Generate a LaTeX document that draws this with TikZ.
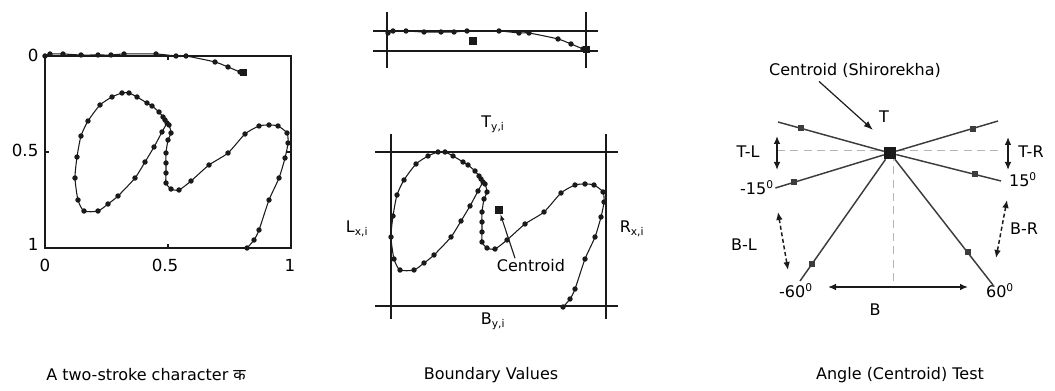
\documentclass[tikz,border=0pt]{standalone}
\usepackage{fontspec}
\setmainfont{DejaVu Sans}
\newfontfamily\devafont[Script=Devanagari]{Noto Sans}
\usetikzlibrary{arrows.meta,positioning}
\definecolor{ink}{HTML}{1A1A1A}
\definecolor{raygray}{HTML}{3C3C3C}
\definecolor{guide}{HTML}{B5B5B5}

% pen samples of the two strokes (pixel units, y downward)
\newcommand\firststroke{%
  \draw[penline] plot[smooth, tension=0.4, mark=*] coordinates {(45,56) (50,54) (63,54) (81,55) (98,55)
    (111,55) (124,54) (156,54) (176,56) (186,56) (215,62) (228,67) (240,72)};
  \fill[ink] (243,73) +(-3.5,-3.5) rectangle +(3.5,3.5);}
\newcommand\secondstroke{%
  \draw[penline] plot[smooth, tension=0.4, mark=*] coordinates {(247,248) (254,240) (259,230) (269,200)
    (279,178) (285,158) (288,143) (287,133) (278,126) (269,125) (259,126) (245,134) (228,153)
    (209,165) (191,181) (179,190) (171,189) (166,183) (166,173) (166,163) (166,153) (168,140)
    (171,133) (169,125) (165,120) (163,117) (159,112) (152,106) (147,103) (137,97) (129,93)
    (122,93) (112,97) (100,105) (88,121) (81,136) (77,157) (75,178) (78,200) (84,211) (98,211)
    (108,204) (118,196) (135,178) (145,162) (154,147) (162,132) (167,123)};}

\begin{document}
\begin{tikzpicture}[x=0.75pt,y=-0.75pt,
  txt/.style={font=\fontsize{12}{14}\selectfont, inner sep=1pt},
  ticklab/.style={font=\fontsize{12.5}{14}\selectfont, inner sep=1pt},
  penline/.style={ink, line width=0.8pt, mark size=1.6pt},
  frame/.style={ink, line width=1pt},
  ray/.style={raygray, line width=1.1pt},
  mk/.style={fill=raygray, minimum size=4.5pt, inner sep=0pt},
  sq/.style={fill=ink, minimum size=5.5pt, inner sep=0pt},
  guideline/.style={guide, dash pattern=on 6pt off 4pt, line width=0.7pt},
  dbl/.style={{Latex[length=6pt,width=5pt]}-{Latex[length=6pt,width=5pt]}, ink, line width=1.1pt},
]
  \useasboundingbox (0,0) rectangle (1055,391);

  % Panel 1: the character on unit axes
  \draw[frame] (45,56) rectangle (291,248);
  \draw[frame] (168,248) -- (168,244) (168,56) -- (168,60) (45,152) -- (49,152) (291,152) -- (287,152);
  \node[ticklab, anchor=east] (ylo) at (40,55) {0};
  \node[ticklab, anchor=east] (ymid) at (40,150) {0.5};
  \node[ticklab, anchor=east] (yhi) at (40,244) {1};
  \node[ticklab] (xlo) at (45,265) {0};
  \node[ticklab] (xmid) at (165,265) {0.5};
  \node[ticklab] (xhi) at (290,265) {1};
  \firststroke
  \secondstroke

  % Panel 2: boundary values
  \draw[frame] (373,31) -- (598,31) (373,51) -- (598,51) (387,12) -- (387,68) (586,12) -- (586,68);
  \begin{scope}[shift={(343,-23)}]
    \firststroke
  \end{scope}
  \node[sq] (ctop) at (473,41) {};

  \draw[frame] (375,152) -- (618,152) (375,306) -- (618,306) (391,134) -- (391,319) (606,134) -- (606,319);
  \begin{scope}[shift={(316,59)}]
    \secondstroke
  \end{scope}
  \node[sq] (cbot) at (499,210) {};
  \node[txt] (tyi) at (493,124) {T\textsubscript{y,i}};
  \node[txt] (byi) at (493,321) {B\textsubscript{y,i}};
  \node[txt] (lxi) at (357,229) {L\textsubscript{x,i}};
  \node[txt] (rxi) at (632,229) {R\textsubscript{x,i}};
  \node[txt] (clab) at (531,266) {Centroid};
  \draw[-{Latex[length=5pt,width=3.5pt]}, ink, line width=0.8pt] ([xshift=-12pt]clab.north) -- (cbot);

  % Panel 3: angle test round the centroid
  \draw[guideline] (777,150) -- (1000,150);
  \draw[guideline] (893,153) -- (893,282);
  \node[fill=ink, minimum size=9pt, inner sep=0pt] (hub) at (890,153) {};
  \coordinate (ulend) at (778,122);
  \coordinate (urend) at (998,121);
  \coordinate (pfend) at (1001,181);
  \coordinate (msend) at (800,281);
  \coordinate (psend) at (993,285);
  \node[txt] (mfif) at (757,188) {-15\textsuperscript{0}};
  \node[txt] (pfif) at (1023,180) {15\textsuperscript{0}};
  \node[txt] (msix) at (796,291) {-60\textsuperscript{0}};
  \node[txt] (psix) at (1000,291) {60\textsuperscript{0}};
  \draw[ray] (hub) -- (ulend) node[pos=0.78, mk] (ulmk) {};
  \draw[ray] (hub) -- (urend) node[pos=0.75, mk] (urmk) {};
  \draw[ray] (hub) -- (mfif.east) node[pos=0.83, mk] (mfmk) {};
  \draw[ray] (hub) -- (pfend) node[pos=0.75, mk] (pfmk) {};
  \draw[ray] (hub) -- (msend) node[pos=0.86, mk] (msmk) {};
  \draw[ray] (hub) -- (psend) node[pos=0.74, mk] (psmk) {};

  \node[txt] (shiro) at (855,70) {Centroid (Shirorekha)};
  \node[txt] (tlab) at (884,117) {T};
  \coordinate (shtip) at (873,130);
  \draw[-{Latex[length=7pt,width=5pt]}, ink, line width=0.9pt] ([xshift=-27pt,yshift=-2pt]shiro.south) -- (shtip);

  \coordinate (tltop) at (777,136);
  \coordinate (tlbot) at (777,170);
  \draw[dbl] (tltop) -- (tlbot);
  \node[txt] (tl) at (748,152) {T-L};
  \coordinate (trtop) at (1008,137);
  \coordinate (trbot) at (1008,170);
  \draw[dbl] (trtop) -- (trbot);
  \node[txt] (tr) at (1031,152) {T-R};

  \coordinate (bltop) at (778,212);
  \coordinate (blbot) at (788,270);
  \draw[dbl, densely dashed] (bltop) -- (blbot);
  \node[txt] (bl) at (744,245) {B-L};
  \coordinate (brtop) at (1007,200);
  \coordinate (brbot) at (996,258);
  \draw[dbl, densely dashed] (brtop) -- (brbot);
  \node[txt] (br) at (1024,229) {B-R};

  \coordinate (bleft) at (828,287);
  \coordinate (bright) at (968,287);
  \draw[dbl] (bleft) -- (bright);
  \node[txt] (blab) at (875,310) {B};

  % Captions
  \node[txt] (cap1) at (146,375) {A two-stroke character {\devafont क}};
  \node[txt] (cap2) at (491,375) {Boundary Values};
  \node[txt] (cap3) at (900,375) {Angle (Centroid) Test};
\end{tikzpicture}
\end{document}
